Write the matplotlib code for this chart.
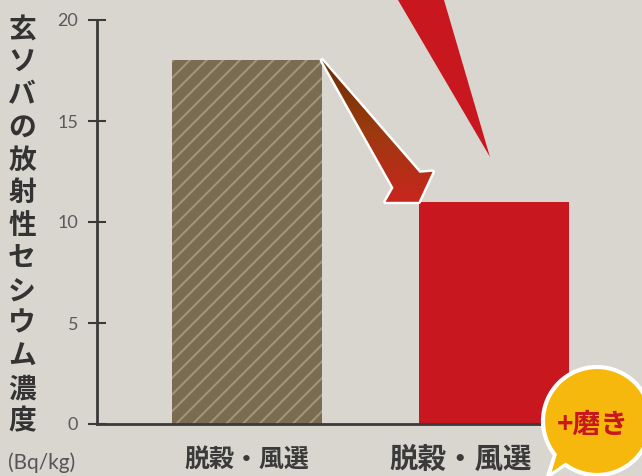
import matplotlib.pyplot as plt
import numpy as np
from matplotlib.patches import Polygon, Circle
from matplotlib.colors import LinearSegmentedColormap

plt.rcParams['font.family'] = ['Noto Sans CJK JP', 'DejaVu Sans']
plt.rcParams['hatch.linewidth'] = 1.5

# data
categories = ['脱穀・風選', '脱穀・風選']
values = [18, 11]
yticks = [0, 5, 10, 15, 20]
ylabel = '玄ソバの放射性セシウム濃度'
unit = '(Bq/kg)'
badge = '+磨き'

bg = '#d9d5cf'
W, H = 642, 476
fig = plt.figure(figsize=(W / 100, H / 100), dpi=100, facecolor=bg)
ax = fig.add_axes([97 / W, 1 - 424 / H, 1 - 97 / W, (424 - 20) / H])
ax.set_facecolor('none')

bw = 0.6085
x = np.arange(len(values))
ax.bar(x[0], values[0], width=bw, color='#7a6c52', edgecolor='#a29476', hatch='//', linewidth=0, zorder=2)
ax.bar(x[1], values[1], width=bw, color='#c8171e', linewidth=0, zorder=2)

ax.set_xlim(-0.6085, 1.602)
ax.set_ylim(0, 20)
ax.set_yticks(yticks)
ax.set_xticks([])
for s in ['top', 'right']:
    ax.spines[s].set_visible(False)
for s in ['left', 'bottom']:
    ax.spines[s].set_color('#3a3a3a')
    ax.spines[s].set_linewidth(2)
ax.tick_params(axis='y', direction='inout', length=13, width=1.5, color='#3a3a3a',
               labelsize=13, labelcolor='#5a5a5a', pad=7)
for t in ax.get_yticklabels():
    t.set_family(['Lato', 'DejaVu Sans'])

# category labels
sizes = [18, 20.5]
offs = [0, -33]
for i, c in enumerate(categories):
    ax.annotate(c, xy=(x[i], 0), xycoords=('data', 'axes fraction'),
                xytext=(offs[i], -36), textcoords='offset pixels',
                ha='center', va='center', fontsize=sizes[i], fontweight='bold',
                color='#3a3a3a', annotation_clip=False)

# vertical y label
fig.text(22 / W, 1 - 226 / H, '\n'.join(ylabel), ha='center', va='center',
         fontsize=20, fontweight='bold', color='#333333', linespacing=1.21)
fig.text(42 / W, 1 - 463 / H, unit, ha='center', va='center', fontsize=15,
         color='#555555', family=['Lato', 'DejaVu Sans'])

fig.canvas.draw()

# overlay axes in pixel coordinates for decorations
gax = fig.add_axes([0, 0, 1, 1], zorder=5)
gax.axis('off')
gax.patch.set_visible(False)

# arrow from bar 1 top-right to bar 2 top-left
p0 = ax.transData.transform((x[0] + bw / 2, values[0]))
p1 = ax.transData.transform((x[1] - bw / 2, values[1]))
poly = np.array([p0, p1 + [-25, 14], p1 + [-33, 0], p1 + [0, 0], p1 + [14, 30], p1 + [1, 29]])
gax.add_patch(Polygon(poly, closed=True, facecolor='white', edgecolor='white',
                      linewidth=3.5, joinstyle='round', zorder=1))
cmap = LinearSegmentedColormap.from_list('arr', ['#6a2e02', '#9c3a10', '#c8261c'])
grad = np.linspace(0, 1, 256).reshape(-1, 1)
img = gax.imshow(grad, extent=[poly[:, 0].min(), poly[:, 0].max(), poly[:, 1].min(), poly[:, 1].max()],
                 cmap=cmap, aspect='auto', origin='upper', zorder=2)
gpoly = Polygon(poly, closed=True, facecolor='none', edgecolor='none')
gax.add_patch(gpoly)
img.set_clip_path(gpoly)

# big red wedge coming from above
gax.add_patch(Polygon([[398, H], [444, H], [490, H - 157]], closed=True,
                      facecolor='#c8171e', edgecolor='none', zorder=1))

# yellow speech bubble
yel = '#f6b80d'
gax.add_patch(Polygon([[556, H - 452], [600, H - 440], [548, H - 476]], closed=True,
                      facecolor=yel, edgecolor='white', linewidth=3, zorder=6))
gax.add_patch(Circle((597, H - 421), 54, facecolor=yel, edgecolor='white', linewidth=3, zorder=6))
gax.add_patch(Polygon([[558, H - 450], [598, H - 440], [552, H - 472]], closed=True,
                      facecolor=yel, edgecolor='none', zorder=7))
gax.text(593, H - 425, badge, ha='center', va='center', fontsize=20, fontweight='bold',
         color='#c8171e', zorder=8)

gax.set_xlim(0, W)
gax.set_ylim(0, H)

fig.savefig('out.png', dpi=100, facecolor=bg)
